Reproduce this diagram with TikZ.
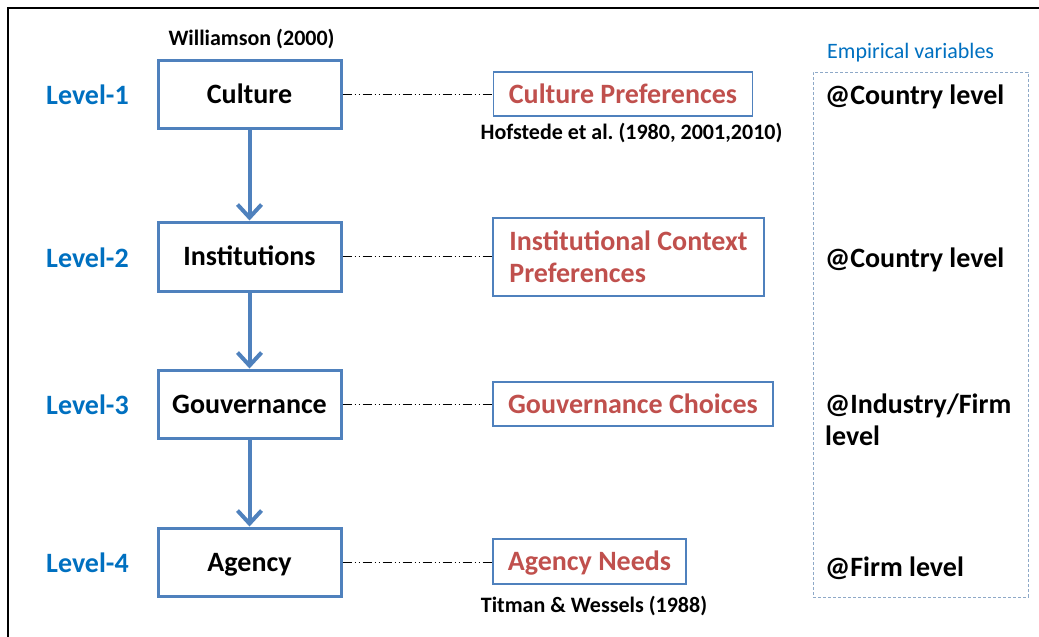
\documentclass[tikz,border=0pt]{standalone}
\usepackage{fontspec}
\setmainfont{Carlito}
\frenchspacing
\usetikzlibrary{arrows.meta}
\definecolor{lvlblue}{HTML}{0070C0}
\definecolor{boxblue}{HTML}{4F81BD}
\definecolor{redtxt}{HTML}{C0504D}
\definecolor{dashbox}{HTML}{8EA9C8}
\begin{document}
\begin{tikzpicture}[x=1pt,y=-1pt,
 big/.style={font=\fontsize{28}{32}\selectfont\bfseries},
 one/.style={text height=24pt, text depth=6pt},
 small/.style={font=\fontsize{22}{26}\selectfont\bfseries},
 levelbox/.style={draw=boxblue, line width=3pt, minimum width=183pt, minimum height=68pt, inner sep=0pt, big, one},
 prefbox/.style={draw=boxblue, line width=1.3pt, inner sep=0pt, text=redtxt, big},
 lvl/.style={text=lvlblue, big, one, anchor=west, inner sep=0pt},
 flow/.style={draw=boxblue, line width=4pt, -{Straight Barb[length=13pt,width=24pt]}},
 link/.style={draw=black, line width=0.9pt, dash pattern=on 9pt off 3pt on 1pt off 3pt on 1pt off 3pt},
 emp/.style={big, anchor=west, inner sep=0pt, align=left},
 ref/.style={small, inner sep=0pt}
]
\useasboundingbox (0,0) rectangle (1039,637);
\draw[line width=2pt] (8,637) -- (8,8) -- (1039,8);

% level boxes
\node[levelbox] (culture) at (249.5,94) {Culture};
\node[levelbox, minimum height=69pt] (inst) at (249.5,256.5) {Institutions};
\node[levelbox] (gouv) at (249.5,404) {Gouvernance};
\node[levelbox] (agency) at (249.5,562) {Agency};

% level labels
\node[lvl] (l1) at (46,95) {Level-1};
\node[lvl] (l2) at (46,258) {Level-2};
\node[lvl] (l3) at (46,405) {Level-3};
\node[lvl] (l4) at (46,563) {Level-4};

% references
\node[ref] (will) at (251.5,39) {Williamson (2000)};
\node[ref] (hof) at (631.5,133) {Hofstede et al. (1980, 2001,2010)};
\node[ref] (tit) at (594,606) {Titman \& Wessels (1988)};

% preference boxes
\node[prefbox, one, minimum width=259pt, minimum height=44pt] (cpref) at (623,94) {Culture Preferences};
\node[prefbox, minimum width=271pt, minimum height=78pt, align=left] (ipref) at (628.5,257) {Institutional Context\\Preferences};
\node[prefbox, one, minimum width=280pt, minimum height=44pt] (gpref) at (633,404) {Gouvernance Choices};
\node[prefbox, one, minimum width=193pt, minimum height=45pt] (apref) at (589.5,561.5) {Agency Needs};

% flow arrows
\draw[flow] (culture.south) -- (inst.north);
\draw[flow] (inst.south) -- (gouv.north);
\draw[flow] (gouv.south) -- (agency.north);

% dash-dot links
\draw[link] (culture.east) -- (culture.east -| cpref.west);
\draw[link] (inst.east) -- (inst.east -| ipref.west);
\draw[link] (gouv.east) -- (gouv.east -| gpref.west);
\draw[link] (agency.east) -- (agency.east -| apref.west);

% empirical variables
\node[text=lvlblue, font=\fontsize{22}{26}\selectfont, anchor=west, inner sep=0pt] (emptitle) at (827,53) {Empirical variables};
\node[draw=dashbox, line width=1pt, dash pattern=on 3pt off 2pt, minimum width=215pt, minimum height=525pt, inner sep=0pt] (empbox) at (920.5,334.5) {};
\node[emp, one] (e1) at (825,95) {@Country level};
\node[emp, one] (e2) at (825,258) {@Country level};
\node[emp] (e3) at (825,420) {@Industry/Firm\\level};
\node[emp, one] (e4) at (825,567) {@Firm level};
\end{tikzpicture}
\end{document}
